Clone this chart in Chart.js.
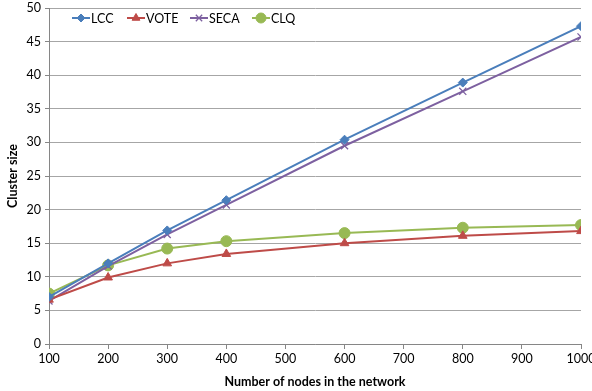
<!DOCTYPE html>
<html>
<head>
<meta charset="utf-8">
<script src="https://cdn.jsdelivr.net/npm/chart.js@4"></script>
<style>
  html, body { margin: 0; padding: 0; background: #fff; }
  #wrap { width: 592px; height: 391px; }
</style>
</head>
<body>
<div id="wrap"><canvas id="chart" width="592" height="391"></canvas></div>
<script>
// network sizes and cluster sizes per protocol
const nodes = [100, 200, 300, 400, 600, 800, 1000];
const lcc  = [7.0, 12.0, 16.9, 21.4, 30.4, 38.9, 47.3];
const vote = [6.6, 9.9, 12.0, 13.4, 15.0, 16.1, 16.8];
const seca = [6.4, 11.6, 16.3, 20.7, 29.5, 37.6, 45.7];
const clq  = [7.5, 11.7, 14.2, 15.3, 16.5, 17.3, 17.7];

const FONT = 'Lato, "Liberation Sans", sans-serif';

function series(label, values, color, style, radius) {
    return {
        label: label,
        data: nodes.map((n, i) => ({ x: n, y: values[i] })),
        borderColor: color,
        backgroundColor: color,
        borderWidth: 2,
        pointStyle: style,
        pointRadius: radius,
        pointBorderWidth: style === 'crossRot' ? 1.3 : 1,
        tension: 0
    };
}

// legend drawn inside the plot area, top-left
const innerLegend = {
    id: 'innerLegend',
    afterDraw(chart) {
        const ctx = chart.ctx;
        const xs = [72, 127, 190, 252];
        const y = 18;
        chart.data.datasets.forEach((ds, i) => {
            const x0 = xs[i];
            ctx.save();
            ctx.strokeStyle = ds.borderColor;
            ctx.lineWidth = 2;
            ctx.beginPath();
            ctx.moveTo(x0, y);
            ctx.lineTo(x0 + 18, y);
            ctx.stroke();
            ctx.fillStyle = ds.backgroundColor;
            ctx.strokeStyle = ds.borderColor;
            ctx.lineWidth = ds.pointBorderWidth;
            Chart.helpers.drawPoint(ctx, {
                pointStyle: ds.pointStyle,
                radius: ds.pointRadius - 0.5,
                rotation: 0,
                borderWidth: ds.pointBorderWidth
            }, x0 + 9, y);
            ctx.fillStyle = '#000';
            ctx.font = '12.5px ' + FONT;
            ctx.textBaseline = 'middle';
            ctx.fillText(ds.label, x0 + 19, y + 0.5);
            ctx.restore();
        });
    }
};

new Chart(document.getElementById('chart'), {
    type: 'line',
    data: {
        datasets: [
            series('LCC', lcc, '#4a7ebb', 'rectRot', 4.5),
            series('VOTE', vote, '#be4b48', 'triangle', 5),
            series('SECA', seca, '#7d60a0', 'crossRot', 5),
            series('CLQ', clq, '#98b954', 'circle', 5.5)
        ]
    },
    options: {
        responsive: false,
        animation: false,
        layout: { padding: { left: 5, right: 11, top: 8, bottom: 2 } },
        plugins: {
            legend: { display: false },
            tooltip: { enabled: false }
        },
        scales: {
            x: {
                type: 'linear',
                min: 100,
                max: 1000,
                ticks: {
                    stepSize: 100,
                    color: '#000',
                    font: { family: FONT, size: 12.5 },
                    padding: 2,
                    maxRotation: 0,
                    callback: (v) => String(v)
                },
                grid: {
                    drawOnChartArea: false,
                    drawTicks: true,
                    tickLength: 5,
                    color: '#868686'
                },
                border: { color: '#868686', width: 1 },
                title: {
                    display: true,
                    text: 'Number of nodes in the network',
                    color: '#000',
                    font: { family: FONT, size: 12.5, weight: 'bold' },
                    padding: { top: 2, bottom: 0 }
                },
                afterFit(scale) {
                    scale.height = 45;
                    scale.paddingLeft = 0;
                    scale.paddingRight = 0;
                }
            },
            y: {
                min: 0,
                max: 50,
                ticks: {
                    stepSize: 5,
                    color: '#000',
                    font: { family: FONT, size: 12.5 },
                    padding: 4
                },
                grid: {
                    color: '#a6a6a6',
                    drawTicks: true,
                    tickLength: 4,
                    tickColor: '#868686'
                },
                border: { color: '#868686', width: 1 },
                title: {
                    display: true,
                    text: 'Cluster size',
                    color: '#000',
                    font: { family: FONT, size: 12.5, weight: 'bold' },
                    padding: { top: 0, bottom: 4 }
                },
                afterFit(scale) {
                    scale.width = 44;
                    scale.paddingTop = 0;
                    scale.paddingBottom = 0;
                }
            }
        }
    },
    plugins: [innerLegend]
});
</script>
</body>
</html>
